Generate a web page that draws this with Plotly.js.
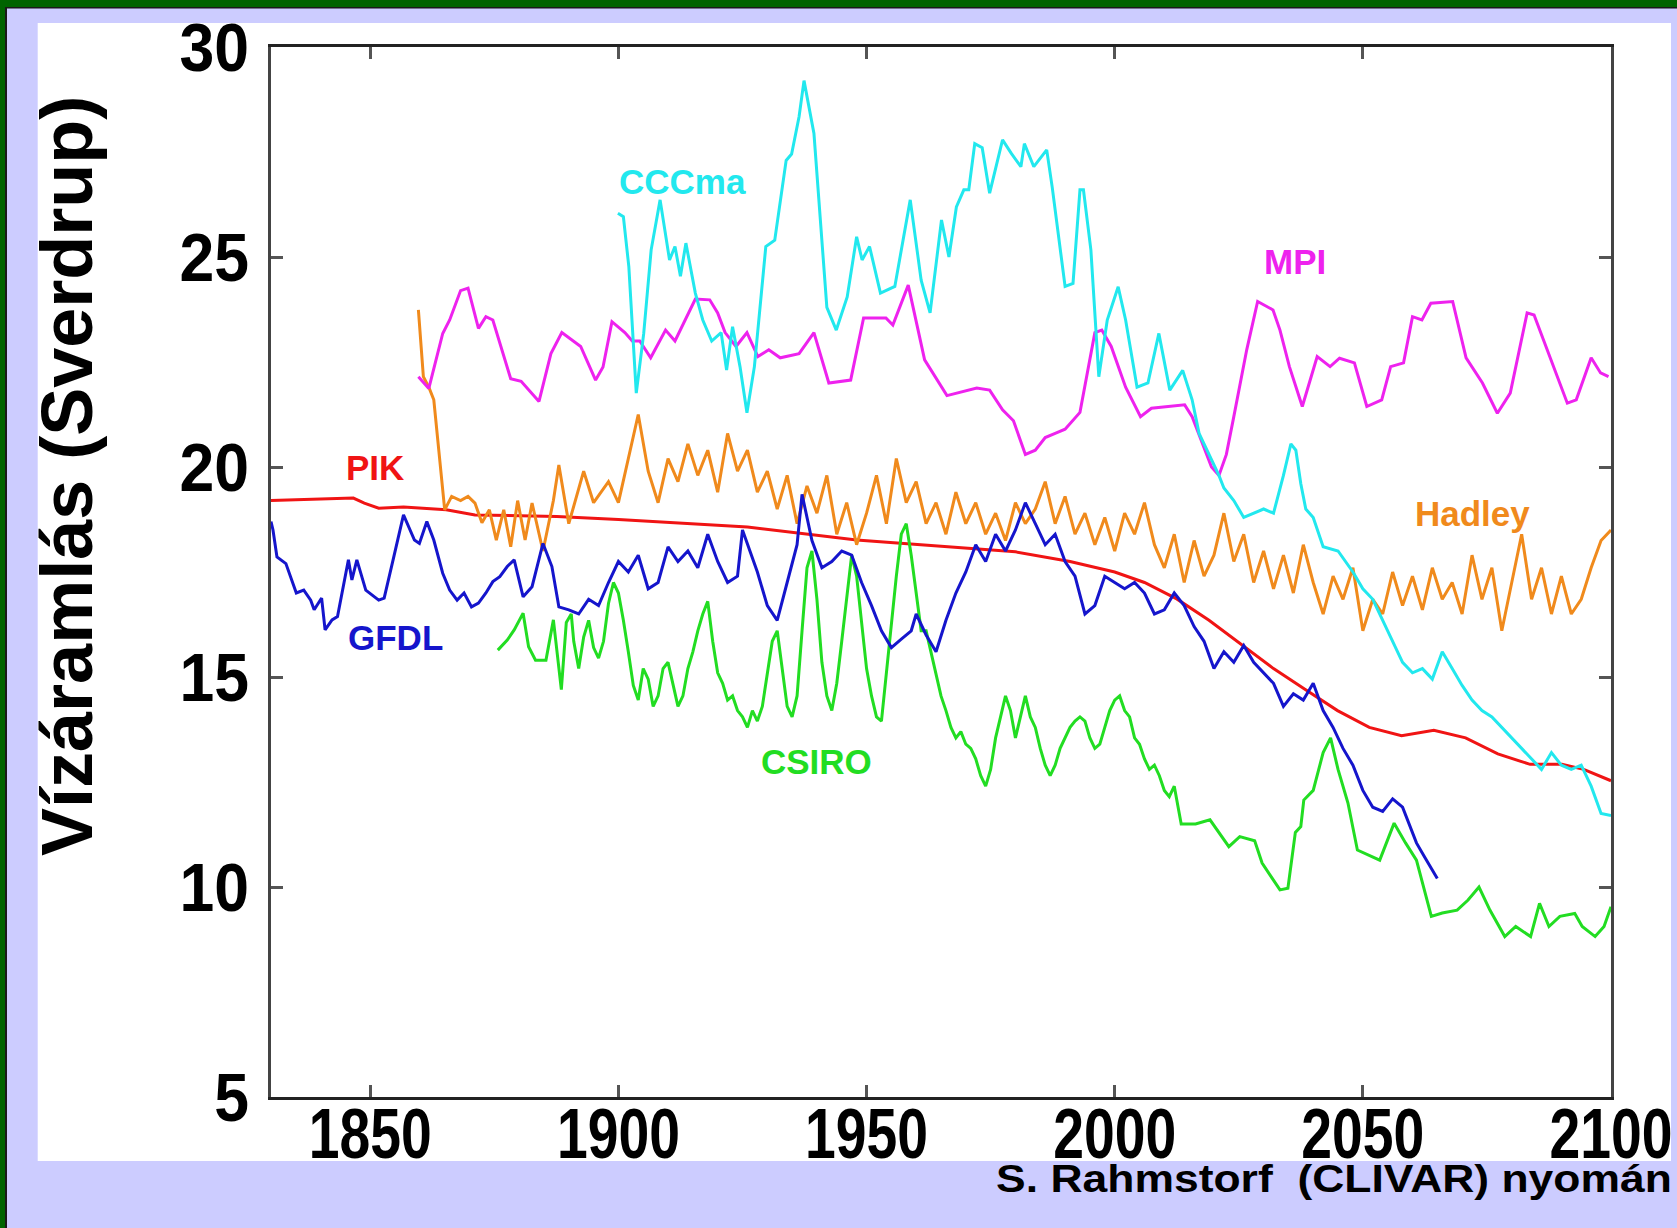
<!DOCTYPE html>
<html><head><meta charset="utf-8">
<script src="https://cdn.plot.ly/plotly-3.0.1.min.js"></script>
<style>html,body{margin:0;padding:0;background:#ccccff;}#chart{width:1677px;height:1228px;}</style>
</head><body><div id="chart"></div>
<script>
// ---------------- data ----------------
const xTickVals = [1850, 1900, 1950, 2000, 2050, 2100];
const yTickVals = [5, 10, 15, 20, 25, 30];

const pikYears  = [1830,1846.6,1848.8,1851.7,1856.7,1865.3,1871.1,1887.6,1900,1926,1948,1969,1980,1991,2000,2006,2012.5,2019,2025.5,2032,2038.4,2044.9,2051.3,2057.8,2064.3,2070.7,2077.2,2083.7,2090.1,2094.5,2100];
const pikValues = [19.2,19.26,19.14,19.02,19.05,18.98,18.86,18.82,18.75,18.57,18.26,18.08,17.98,17.75,17.5,17.25,16.86,16.35,15.77,15.2,14.7,14.2,13.8,13.6,13.73,13.55,13.17,12.92,12.92,12.8,12.53];

const gfdlYears  = [1830,1830.4,1831.2,1833,1835.1,1836.6,1838,1838.7,1840.2,1840.9,1842.3,1843.4,1845.6,1846.3,1847.3,1849.1,1851.7,1852.8,1854.6,1856.7,1858.9,1859.9,1861.4,1862.8,1864.6,1866,1867.5,1868.9,1870.4,1871.8,1873.3,1874.7,1876.1,1877.6,1879,1880.8,1882.6,1884.8,1886.6,1888,1890,1892,1894,1896,1898,1900,1902,1904,1906,1908,1910,1912,1914,1916,1918,1920,1922,1924,1925,1928,1930,1932,1934,1936,1937,1939,1941,1943,1945,1947,1949,1951,1953,1955,1957,1959,1960,1962,1964,1966,1968,1970,1972,1974,1976,1978,1980,1982,1984,1986,1988,1990,1992,1994,1996,1998,2000,2002,2004,2006,2008,2010,2012,2014,2016,2018,2020,2022,2024,2026,2028,2030,2032,2034,2036,2038,2040,2042,2044,2046,2048,2050,2052,2054,2056,2058,2060.8,2062.5,2065];
const gfdlValues = [18.7,18.5,17.86,17.7,17.0,17.07,16.83,16.6,16.88,16.12,16.36,16.44,17.79,17.31,17.79,17.07,16.83,16.88,17.79,18.86,18.26,18.18,18.7,18.26,17.47,17.07,16.83,17.0,16.67,16.76,17.0,17.27,17.39,17.63,17.79,16.91,17.15,18.18,17.63,16.67,16.6,16.5,16.85,16.7,17.25,17.75,17.5,17.9,17.1,17.25,18.1,17.75,18.0,17.6,18.4,17.75,17.25,17.4,18.5,17.5,16.7,16.35,17.25,18.15,19.35,18.25,17.6,17.75,18.0,17.9,17.25,16.7,16.1,15.7,15.9,16.1,16.5,16.0,15.6,16.35,17.0,17.5,18.15,17.75,18.4,18.0,18.5,19.15,18.65,18.15,18.4,17.75,17.4,16.5,16.7,17.4,17.25,17.1,17.25,17.0,16.5,16.6,17.0,16.7,16.2,15.85,15.2,15.6,15.35,15.75,15.35,15.1,14.85,14.3,14.6,14.45,14.85,14.2,13.8,13.3,12.9,12.3,11.9,11.8,12.1,11.9,11.05,10.7,10.2];

const csiroYears  = [1875.7,1877.6,1879,1880.8,1881.9,1883.3,1885.4,1886.9,1888.5,1889.5,1890.5,1891,1892,1893,1894,1895,1896,1897,1898,1899,1900,1901,1902,1903,1904,1905,1906,1907,1908,1909,1910,1911,1912,1913,1914,1915,1916,1917,1918,1919,1920,1921,1922,1923,1924,1925,1926,1927,1928,1929,1930,1931,1932,1933,1934,1935,1936,1937,1938,1939,1940,1941,1942,1943,1944,1945,1946,1947,1948,1949,1950,1951,1952,1953,1954,1955,1956,1957,1958,1959,1960,1961,1962,1963,1964,1965,1966,1967,1968,1969,1970,1971,1972,1973,1974,1975,1976,1977,1978,1979,1980,1981,1982,1983,1984,1985,1986,1987,1988,1989,1990,1991,1992,1993,1994,1995,1996,1997,1998,1999,2000,2001,2002,2003,2004,2005,2006,2007,2008,2009,2010,2011,2012,2013.4,2016.3,2019.2,2023,2025.2,2028.2,2029.7,2033.3,2034.9,2036.4,2037.5,2038.1,2040,2042,2043.5,2045,2047,2048.9,2051.8,2053.4,2056.3,2058.6,2060.8,2063.8,2066,2069,2071.2,2073.4,2075.6,2078.6,2080.8,2083.8,2085.6,2087.5,2089.7,2092.7,2094.2,2096.8,2098.6,2100];
const csiroValues = [15.64,15.88,16.12,16.52,15.72,15.4,15.4,16.36,14.7,16.3,16.5,15.85,15.2,15.95,16.35,15.7,15.45,15.85,16.75,17.25,17.0,16.35,15.6,14.8,14.45,15.2,14.95,14.3,14.55,15.2,15.35,14.85,14.3,14.55,15.2,15.6,16.1,16.5,16.8,15.85,15.1,14.85,14.45,14.55,14.2,14.05,13.8,14.2,13.95,14.3,15.1,15.85,16.1,15.2,14.3,14.05,14.55,16.1,17.6,18.0,16.85,15.35,14.55,14.2,14.85,15.85,16.85,17.9,17.4,16.35,15.2,14.55,14.05,13.95,15.1,16.35,17.4,18.4,18.65,17.9,17.0,16.1,16.1,15.6,15.1,14.55,14.2,13.8,13.55,13.7,13.4,13.3,13.05,12.65,12.4,12.8,13.55,14.05,14.55,14.2,13.55,14.05,14.55,14.05,13.8,13.3,12.9,12.65,12.9,13.3,13.55,13.8,13.95,14.05,13.95,13.55,13.3,13.4,13.8,14.2,14.45,14.55,14.2,14.05,13.55,13.4,13.05,12.8,12.9,12.65,12.3,12.15,12.4,11.5,11.5,11.6,10.96,11.2,11.1,10.57,9.93,9.97,11.3,11.44,12.07,12.3,13.2,13.55,12.8,12.0,10.88,10.72,10.64,11.52,11.05,10.64,9.3,9.38,9.45,9.69,10.0,9.45,8.82,9.06,8.82,9.61,9.06,9.3,9.37,9.06,8.82,9.06,9.53];

const hadleyYears  = [1859.7,1860.7,1861.8,1862.8,1865,1866.4,1868.2,1869.7,1871.1,1872.5,1874,1875.4,1876.9,1878.3,1879.7,1881.2,1882.6,1884.8,1886.9,1888,1890,1893,1895,1898,1900,1902,1904,1906,1908,1910,1912,1914,1916,1918,1920,1922,1924,1926,1928,1930,1932,1934,1936,1938,1940,1942,1944,1946,1948,1950,1952,1954,1956,1958,1960,1962,1964,1966,1968,1970,1972,1974,1976,1978,1980,1982,1984,1986,1988,1990,1992,1994,1996,1998,2000,2002,2004,2006,2008,2010,2012,2014,2016,2018,2020,2022,2024,2026,2028,2030,2032,2034,2036,2038,2040,2042,2044,2046,2048,2050,2052,2054,2056,2058,2060,2062,2064,2066,2068,2070,2072,2074,2076,2078,2080,2082,2084,2086,2088,2090,2092,2094,2096,2098,2100];
const hadleyValues = [23.74,22.15,21.9,21.6,18.98,19.3,19.2,19.3,19.14,18.67,18.98,18.26,18.98,18.1,19.2,18.26,19.14,18.0,19.2,20.05,18.65,19.9,19.15,19.65,19.15,20.2,21.25,19.9,19.15,20.2,19.65,20.55,19.8,20.4,19.4,20.8,19.9,20.4,19.4,19.9,19.0,19.8,18.65,19.55,18.9,19.8,18.4,19.15,18.15,18.9,19.8,18.65,20.2,19.15,19.65,18.65,19.15,18.4,19.4,18.65,19.15,18.4,18.9,18.25,19.15,18.65,19.0,19.65,18.65,19.3,18.4,18.9,18.15,18.8,18.0,18.9,18.4,19.15,18.15,17.6,18.4,17.25,18.25,17.4,17.9,18.9,17.75,18.4,17.25,18.0,17.1,17.9,17.0,18.15,17.25,16.5,17.4,16.85,17.6,16.1,16.85,16.5,17.5,16.7,17.4,16.6,17.6,16.85,17.25,16.5,17.9,16.85,17.6,16.1,17.25,18.4,16.85,17.6,16.5,17.4,16.5,16.85,17.6,18.25,18.5];

const mpiYears  = [1859.7,1861.8,1864.6,1866,1868.2,1869.7,1871.8,1873.3,1874.7,1878.3,1880.4,1884,1886.4,1888.6,1892.4,1895.4,1896.9,1898.7,1901.3,1902.8,1904.3,1906.5,1909.5,1911.4,1915.5,1918.4,1920,1921.5,1923.7,1925.9,1928.1,1930.3,1932.6,1936.4,1939.4,1942.4,1946.8,1949.4,1953.9,1955.3,1958.4,1961.7,1966.2,1972.2,1974.8,1977.4,1979.6,1982,1984,1986,1988,1990,1993,1996,1997.4,1999.3,2002.2,2005.2,2007.4,2011.1,2014.1,2015.6,2017.5,2019.5,2021,2022.5,2024,2026.6,2028.8,2031.9,2033.3,2035.2,2037.8,2040.8,2043.4,2045.3,2048.3,2050.8,2053.8,2055.6,2058.2,2060,2061.9,2063.7,2068.1,2070.8,2074.1,2077.1,2079.7,2083.1,2084.5,2087.1,2088.6,2091.2,2093,2096,2097.9,2099.5];
const mpiValues = [22.15,21.87,23.18,23.5,24.2,24.26,23.3,23.58,23.5,22.1,22.04,21.56,22.7,23.2,22.87,22.07,22.38,23.46,23.2,23.0,23.0,22.6,23.26,23.0,24.0,23.98,23.67,23.2,22.87,23.2,22.63,22.79,22.6,22.7,23.2,22.0,22.07,23.55,23.55,23.38,24.33,22.55,21.7,21.88,21.83,21.36,21.1,20.3,20.4,20.7,20.8,20.9,21.3,23.2,23.26,22.87,21.9,21.2,21.4,21.45,21.48,21.2,20.6,20.0,19.8,20.3,21.2,22.79,23.94,23.74,23.26,22.39,21.44,22.63,22.39,22.59,22.48,21.44,21.6,22.39,22.48,23.58,23.5,23.9,23.94,22.6,22.0,21.28,21.76,23.67,23.62,22.79,22.31,21.52,21.6,22.6,22.24,22.15];

const cccmaYears  = [1899.9,1901,1902.1,1903.6,1905.1,1906.6,1908.4,1910.3,1911.4,1912.5,1913.6,1915.5,1917,1918.8,1920.7,1921.8,1923,1924.5,1925.9,1927.4,1929.7,1931.5,1933.8,1934.9,1936.4,1937.4,1939.4,1942,1943.9,1946.1,1948,1949.1,1950.6,1952.8,1955.7,1958.8,1961,1962.8,1965.1,1966.6,1968.1,1969.6,1970.6,1971.8,1973.3,1974.8,1977.4,1979.2,1981.1,1981.8,1983.7,1986.3,1987.4,1988.6,1990,1991.6,1993,1993.7,1995.2,1996.8,1998.5,2000.7,2002.2,2004.5,2006.7,2008.9,2011.1,2013.7,2015.6,2017,2019,2021,2022,2024,2026,2028,2030,2032,2034,2035.5,2036.5,2037.5,2038.5,2040,2042,2045,2048,2050,2052,2055,2058,2060,2062,2064,2066,2068,2070,2072,2074,2076,2078,2080,2082,2084,2086,2088,2090,2092,2094,2096,2098,2100];
const cccmaValues = [26.04,25.96,24.77,21.76,23.18,25.17,26.36,24.93,25.25,24.54,25.33,24.14,23.5,23.0,23.2,22.31,23.34,22.39,21.29,22.39,25.25,25.4,27.3,27.45,28.34,29.2,27.94,23.8,23.26,24.05,25.48,24.93,25.25,24.14,24.3,26.36,24.45,23.67,25.88,25.0,26.19,26.6,26.6,27.7,27.6,26.52,27.79,27.46,27.15,27.7,27.15,27.55,26.67,25.57,24.3,24.37,26.6,26.6,25.17,22.15,23.5,24.29,23.5,21.9,22.0,23.18,21.83,22.3,21.6,20.8,20.3,19.8,19.5,19.2,18.8,18.9,19.0,18.9,19.8,20.55,20.4,19.6,19.0,18.8,18.1,18.0,17.5,17.1,16.85,16.1,15.35,15.1,15.2,14.95,15.6,15.2,14.8,14.45,14.2,14.05,13.8,13.55,13.3,13.05,12.8,13.2,12.9,12.8,12.9,12.4,11.75,11.7];

// ---------------- layout helpers (pixel -> paper) ----------------
const W = 1677, H = 1228;
const PL = 271, PR = 1611, PT = 47, PB = 1097;
const px = x => (x - PL) / (PR - PL);
const py = y => (PB - y) / (PB - PT);

const sans = "'Liberation Sans', Arial, Helvetica, sans-serif";

function line(name, xs, ys, color) {
  return {type:'scatter', mode:'lines', name:name, x:xs, y:ys,
          line:{color:color, width:3}, hoverinfo:'skip'};
}

const traces = [
  line('PIK', pikYears, pikValues, '#f01414'),
  line('Hadley', hadleyYears, hadleyValues, '#f08a1c'),
  line('MPI', mpiYears, mpiValues, '#ee22ee'),
  line('CCCma', cccmaYears, cccmaValues, '#22e8ee'),
  line('CSIRO', csiroYears, csiroValues, '#22dd22'),
  line('GFDL', gfdlYears, gfdlValues, '#1515cc')
];

function lab(text, x, y, color) {
  return {text:text, x:x, y:y, xref:'x', yref:'y', showarrow:false,
          font:{family:sans, size:35, color:color, weight:'bold'}};
}

const layout = {
  width: W, height: H,
  margin: {l: PL, r: W - PR, t: PT, b: H - PB, pad: 0},
  paper_bgcolor: '#ccccff',
  plot_bgcolor: '#ffffff',
  showlegend: false,
  xaxis: {
    range: [1830, 2100], tickvals: xTickVals, ticktext: xTickVals.map(String),
    ticks: 'inside', ticklen: 12, tickwidth: 3, tickcolor: '#555',
    showline: true, linecolor: '#222', linewidth: 3, mirror: 'ticks',
    showgrid: false, zeroline: false, ticklabeloverflow: 'allow',
    tickfont: {family: sans, size: 70, color: '#000', weight: 'bold'}
  },
  yaxis: {
    range: [5, 30], tickvals: yTickVals, ticktext: yTickVals.map(String),
    ticks: 'inside', ticklen: 12, tickwidth: 3, tickcolor: '#555',
    showline: true, linecolor: '#444', linewidth: 3, mirror: 'ticks',
    showgrid: false, zeroline: false, ticklabeloverflow: 'allow',
    tickfont: {family: sans, size: 68, color: '#000', weight: 'bold'}
  },
  shapes: [
    {type:'rect', xref:'paper', yref:'paper', x0:px(37.7), x1:px(1671), y0:py(1161), y1:py(23),
     fillcolor:'#ffffff', line:{width:0}, layer:'below'},
    {type:'rect', xref:'paper', yref:'paper', x0:px(0), x1:px(W), y0:py(7), y1:py(0),
     fillcolor:'#006400', line:{width:0}, layer:'below'},
    {type:'rect', xref:'paper', yref:'paper', x0:px(0), x1:px(W), y0:py(8.5), y1:py(7),
     fillcolor:'#1a1a1a', line:{width:0}, layer:'below'},
    {type:'rect', xref:'paper', yref:'paper', x0:px(0), x1:px(5), y0:py(H), y1:py(0),
     fillcolor:'#006400', line:{width:0}, layer:'below'},
    {type:'rect', xref:'paper', yref:'paper', x0:px(5), x1:px(7), y0:py(H), y1:py(7),
     fillcolor:'#1a1a1a', line:{width:0}, layer:'below'}
  ],
  annotations: [
    lab('CCCma', 1913, 26.8, '#22e8ee'),
    lab('MPI', 2036.3, 24.9, '#ee22ee'),
    lab('Hadley', 2072, 18.9, '#f08a1c'),
    lab('PIK', 1851, 20.0, '#f01414'),
    lab('GFDL', 1855, 15.95, '#1515cc'),
    lab('CSIRO', 1940, 13.0, '#22dd22'),
    {text:'Vízáramlás (Sverdrup)', xref:'paper', yref:'paper', x:px(67), y:py(476),
     textangle:-90, showarrow:false, xanchor:'center', yanchor:'middle',
     font:{family:sans, size:72, color:'#000', weight:'bold'}},
    {text:'S. Rahmstorf  (CLIVAR) nyomán', xref:'paper', yref:'paper', x:px(1671), y:py(1194),
     showarrow:false, xanchor:'right', yanchor:'middle',
     font:{family:sans, size:38, color:'#000', weight:'bold'}}
  ]
};

// Horizontal condensing / exact placement of a text element (screen-pixel targets)
const ASC = 0.905;
function fit(el, o) {
  const r = el.getBoundingClientRect();
  const ctm = el.parentNode.getScreenCTM();
  let ax = o.anchor === 'right' ? r.right : (o.anchor === 'left' ? r.left : (r.left + r.right) / 2);
  const axP = ax - ctm.e;
  let dx = 0, dy = 0;
  if (o.right !== undefined) dx = o.right - ax;
  if (o.baseline !== undefined) dy = o.baseline - (r.top + ASC * o.fs);
  const old = el.getAttribute('transform') || '';
  el.setAttribute('transform', `translate(${dx},${dy}) translate(${axP},0) scale(${o.scale},1) translate(${-axP},0) ${old}`);
}

Plotly.newPlot('chart', traces, layout, {staticPlot:true, displayModeBar:false}).then(gd => {
  try {
    gd.querySelectorAll('.xtick text').forEach(t => fit(t, {anchor:'center', scale:0.79, baseline:1158, fs:70}));
    gd.querySelectorAll('.ytick text').forEach(t => fit(t, {anchor:'right', scale:0.92, right:249}));
    gd.querySelectorAll('.annotation-text').forEach(t => {
      if (t.textContent.indexOf('Rahmstorf') >= 0) fit(t, {anchor:'right', scale:1.17, right:1672, baseline:1192, fs:38});
    });
  } catch (e) { console.error(e); }
});
</script></body></html>
